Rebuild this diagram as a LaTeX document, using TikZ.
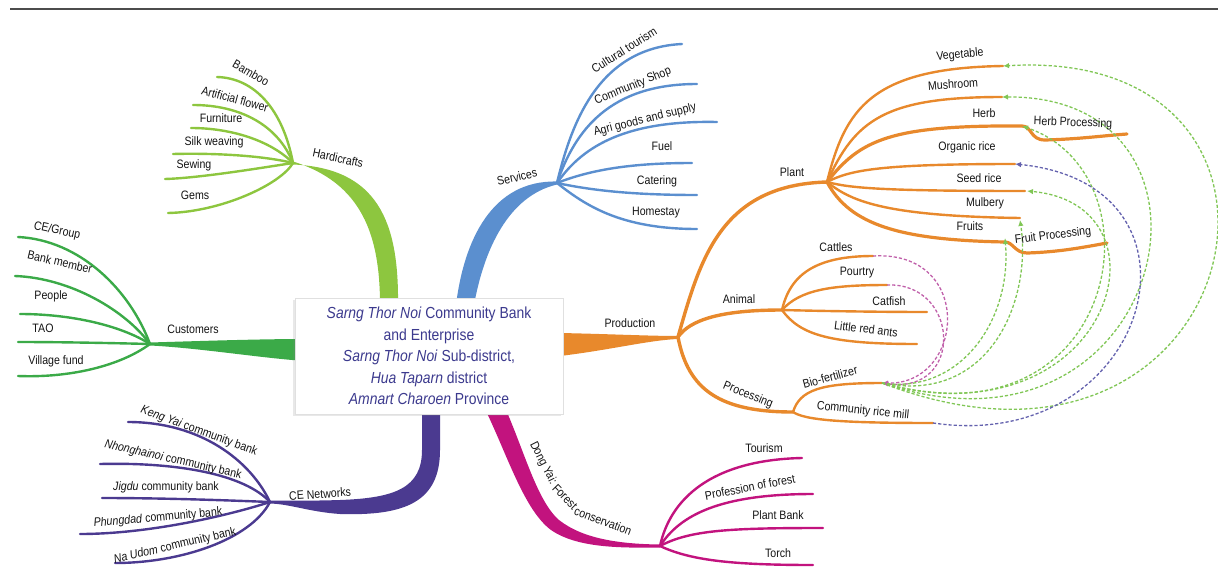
\documentclass[tikz,border=0pt]{standalone}
\usepackage{fontspec}
\setmainfont{Liberation Sans}[FakeStretch=0.87]
\usetikzlibrary{arrows.meta,shadows}
\definecolor{cHC}{HTML}{8DC63F}
\definecolor{cSV}{HTML}{5B8FCF}
\definecolor{cCU}{HTML}{3BAA48}
\definecolor{cCE}{HTML}{4B3A90}
\definecolor{cDY}{HTML}{C2137E}
\definecolor{cPR}{HTML}{E8892C}
\definecolor{cGD}{HTML}{80C655}
\definecolor{cPD}{HTML}{6462AE}
\definecolor{cKD}{HTML}{C060AA}
\definecolor{cTX}{HTML}{3C3A8E}
\begin{document}
\begin{tikzpicture}[x=1pt,y=-1pt,
  lbl/.style={font=\fontsize{12.2}{14}\selectfont, text=black!92, inner sep=0pt},
  lf/.style={line width=2.4pt, line cap=round},
  sub/.style={line width=3.4pt, line cap=round},
  dsh/.style={line width=1.3pt, dash pattern=on 3.2pt off 2pt},
  arr/.style={-{Latex[length=6pt,width=5.5pt]}},
]
\useasboundingbox (0,0) rectangle (1218,570);
\draw[line width=2pt, black!70] (10,8.5) coordinate (r1) -- (1218,8.5) coordinate (r2);

% hubs
\coordinate (HC) at (293,163);
\coordinate (SV) at (557,183);
\coordinate (CU) at (150,344);
\coordinate (CE) at (270,502);
\coordinate (DY) at (660,546);
\coordinate (PR) at (678,337);
\coordinate (PL) at (827,182);
\coordinate (AN) at (782,310);
\coordinate (PC) at (793,412);

% ---------------- main tapered branches
\fill[cHC] (380,305) .. controls (380,235) and (362,183) .. (293,161.5) -- (293,164.5) .. controls (378,168) and (399,222) .. (398,305) -- cycle;
\fill[cSV] (456,305) .. controls (464,240) and (492,180) .. (557,181.5) -- (557,184.5) .. controls (508,196) and (484,250) .. (474,305) -- cycle;
\fill[cCU] (150,342.5) .. controls (200,341) and (260,339) .. (305,339) -- (305,361) .. controls (260,358) and (200,348) .. (150,345.5) -- cycle;
\fill[cCE] (422,405) -- (422,450) .. controls (422,488) and (395,498) .. (340,500) .. controls (310,501) and (290,500.5) .. (270,500.5) -- (270,503.5) .. controls (290,504) and (310,512) .. (340,514) .. controls (405,516) and (440,502) .. (440,450) -- (440,405) -- cycle;
\fill[cDY] (502,401) .. controls (523,446) and (536,500) .. (559,520) .. controls (583,539) and (620,544) .. (660,544.5) -- (660,547.5) .. controls (620,548) and (577,548) .. (551,530) .. controls (524,510) and (507,454) .. (485,409) -- cycle;
\fill[cPR] (560,333) .. controls (610,334) and (650,336) .. (678,336) -- (678,339) .. controls (650,340) and (610,350) .. (560,356) -- cycle;

% ---------------- Hardicrafts leaves
\begin{scope}[cHC, lf]
\coordinate (bam) at (217,77);  \draw (HC) .. controls (283,110) and (255,78) .. (bam);
\coordinate (art) at (193,105); \draw (HC) .. controls (278,125) and (240,105) .. (art);
\coordinate (fur) at (191,128); \draw (HC) .. controls (270,140) and (230,128) .. (fur);
\coordinate (silk) at (173,154);\draw (HC) .. controls (260,155) and (210,153) .. (silk);
\coordinate (sew) at (165,179); \draw (HC) .. controls (260,168) and (200,178) .. (sew);
\coordinate (gem) at (168,213); \draw (HC) .. controls (280,185) and (220,212) .. (gem);
\end{scope}
% ---------------- Customers leaves
\begin{scope}[cCU, lf]
\coordinate (ceg) at (18,237);  \draw (CU) .. controls (130,290) and (80,240) .. (ceg);
\coordinate (bnk) at (15,276);  \draw (CU) .. controls (125,310) and (70,278) .. (bnk);
\coordinate (ppl) at (20,314);  \draw (CU) .. controls (120,325) and (70,314) .. (ppl);
\coordinate (tao) at (18,342);  \draw (CU) .. controls (110,343) and (60,342) .. (tao);
\coordinate (vf) at (18,376);   \draw (CU) .. controls (120,366) and (70,378) .. (vf);
\end{scope}
% ---------------- CE Networks leaves
\begin{scope}[cCE, lf]
\coordinate (ky) at (128,422);  \draw (CE) .. controls (250,460) and (200,422) .. (ky);
\coordinate (nh) at (100,464);  \draw (CE) .. controls (245,475) and (180,462) .. (nh);
\coordinate (jg) at (102,498);  \draw (CE) .. controls (220,500) and (160,498) .. (jg);
\coordinate (ph) at (80,534);   \draw (CE) .. controls (230,515) and (150,534) .. (ph);
\coordinate (nu) at (115,563);  \draw (CE) .. controls (250,540) and (180,563) .. (nu);
\end{scope}
% ---------------- Services leaves
\begin{scope}[cSV, lf]
\coordinate (ct) at (682,44);   \draw (SV) .. controls (572,120) and (600,48) .. (ct);
\coordinate (cs) at (697,84);   \draw (SV) .. controls (575,130) and (610,84) .. (cs);
\coordinate (ag) at (717,122);  \draw (SV) .. controls (580,150) and (620,120) .. (ag);
\coordinate (fu) at (692,163);  \draw (SV) .. controls (590,170) and (630,163) .. (fu);
\coordinate (ca) at (697,195);  \draw (SV) .. controls (590,190) and (630,195) .. (ca);
\coordinate (hs) at (697,229);  \draw (SV) .. controls (585,205) and (620,229) .. (hs);
\end{scope}
% ---------------- Dong Yai leaves
\begin{scope}[cDY, lf]
\coordinate (to) at (802,458);  \draw (DY) .. controls (670,500) and (710,460) .. (to);
\coordinate (pf) at (813,494);  \draw (DY) .. controls (680,515) and (720,494) .. (pf);
\coordinate (pb) at (823,528);  \draw (DY) .. controls (690,530) and (730,528) .. (pb);
\coordinate (tc) at (813,565);  \draw (DY) .. controls (690,560) and (730,565) .. (tc);
\end{scope}
% ---------------- Production sub branches
\begin{scope}[cPR]
\draw[sub] (PR) .. controls (700,260) and (720,185) .. (PL);
\draw[sub] (PR) .. controls (690,320) and (720,310) .. (AN);
\draw[sub] (PR) .. controls (688,390) and (720,412) .. (PC);
\begin{scope}[lf]
\coordinate (veg) at (1003,66);  \draw (PL) .. controls (845,110) and (870,68) .. (veg);
\coordinate (mush) at (1002,97); \draw (PL) .. controls (855,120) and (885,97) .. (mush);
\coordinate (org) at (1015,164); \draw (PL) .. controls (850,170) and (880,164) .. (org);
\coordinate (seed) at (1025,191);\draw (PL) .. controls (850,188) and (880,191) .. (seed);
\coordinate (mul) at (1020,218); \draw (PL) .. controls (850,200) and (880,216) .. (mul);
\coordinate (hbend) at (1022,126);
\coordinate (hp) at (1127,134);
\draw[line width=3.2pt] (PL) .. controls (860,140) and (890,125) .. (hbend) .. controls (1032,126) and (1030,140) .. (1045,140) .. controls (1080,139) and (1100,136) .. (hp);
\coordinate (fj) at (1005,242);
\coordinate (fp) at (1107,243);
\draw[line width=3.2pt] (PL) .. controls (850,225) and (900,240) .. (fj) .. controls (1013,242) and (1015,253) .. (1027,253) .. controls (1060,252) and (1085,247) .. (fp);
\coordinate (cat) at (873,256);  \draw (AN) .. controls (790,275) and (815,256) .. (cat);
\coordinate (pou) at (887,285);  \draw (AN) .. controls (800,290) and (830,285) .. (pou);
\coordinate (fish) at (927,312); \draw (AN) .. controls (820,311) and (880,312) .. (fish);
\coordinate (ants) at (917,344); \draw (AN) .. controls (800,335) and (830,344) .. (ants);
\coordinate (bio) at (882,383);  \draw (PC) .. controls (800,390) and (820,383) .. (bio);
\coordinate (mill) at (933,423); \draw (PC) .. controls (805,420) and (840,423) .. (mill);
\end{scope}
\end{scope}

% ---------------- dashed relations
\draw[dsh, cKD, arr] (cat) .. controls (975,250) and (965,385) .. (bio);
\draw[dsh, cKD, arr] (pou) .. controls (960,282) and (965,395) .. (bio);
\draw[dsh, cGD, arr] (bio) .. controls (960,395) and (1012,320) .. ([yshift=4pt]fj);
\draw[dsh, cGD, arr] (bio) .. controls (990,405) and (1032,300) .. ([yshift=-2pt]mul);
\draw[dsh, cGD, arr] (bio) .. controls (1110,445) and (1180,205) .. ([xshift=2pt]seed);
\draw[dsh, cGD, arr] (bio) .. controls (1120,450) and (1165,175) .. (hbend);
\draw[dsh, cGD, arr] (bio) .. controls (1170,480) and (1250,95) .. (mush);
\draw[dsh, cGD, arr] (bio) .. controls (1250,525) and (1350,45) .. (veg);
\draw[dsh, cPD, arr] (mill) .. controls (1150,455) and (1225,185) .. (org);

% ---------------- centre box
\node[draw=black!12, fill=white, minimum width=268pt, minimum height=116pt, inner sep=0pt,
      drop shadow={shadow xshift=-2pt, shadow yshift=-2pt, opacity=0.18},
      align=center, text=cTX, font=\fontsize{16}{21.5}\selectfont] (center) at (429,356)
 {\textit{Sarng Thor Noi} Community Bank\\ and Enterprise\\ \textit{Sarng Thor Noi} Sub-district,\\ \textit{Hua Taparn} district\\ \textit{Amnart Charoen} Province};

% ---------------- labels
\node[lbl, rotate=-12] (lHC) at (338,158) {Hardicrafts};
\node[lbl, rotate=-30] (lbam) at (251,73) {Bamboo};
\node[lbl, rotate=-15] (lart) at (235,99) {Artificial flower};
\node[lbl] (lfur) at (221,118) {Furniture};
\node[lbl] (lsilk) at (214,142) {Silk weaving};
\node[lbl] (lsew) at (194,165) {Sewing};
\node[lbl] (lgem) at (195,195) {Gems};

\node[lbl] (lCU) at (193,329) {Customers};
\node[lbl, rotate=-12] (lceg) at (57,231) {CE/Group};
\node[lbl, rotate=-13] (lbnk) at (60,262) {Bank member};
\node[lbl] (lppl) at (51,296) {People};
\node[lbl] (ltao) at (43,328) {TAO};
\node[lbl] (lvf) at (56,361) {Village fund};

\node[lbl, rotate=4] (lCE) at (320,494) {CE Networks};
\node[lbl, rotate=-20] (lky) at (199,431) {\textit{Keng Yai} community bank};
\node[lbl, rotate=-13] (lnh) at (173,460) {\textit{Nhonghainoi} community bank};
\node[lbl] (ljg) at (166,487) {\textit{Jigdu} community bank};
\node[lbl, rotate=5] (lph) at (158,518) {\textit{Phungdad} community bank};
\node[lbl, rotate=13] (lnu) at (175,546) {\textit{Na Udom} community bank};

\node[lbl, rotate=13] (lSV) at (517,177) {Services};
\node[lbl, rotate=32] (lct) at (624,50) {Cultural tourism};
\node[lbl, rotate=22] (lcs) at (633,86) {Community Shop};
\node[lbl, rotate=14] (lag) at (645,120) {Agri goods and supply};
\node[lbl] (lfu) at (662,146) {Fuel};
\node[lbl] (lca) at (657,181) {Catering};
\node[lbl] (lhs) at (656,213) {Homestay};

\node[lbl, rotate=-63] (lDY1) at (543,463) {Dong Yai:};
\node[lbl, rotate=-46] (lDY2) at (565,497) {Forest};
\node[lbl, rotate=-21] (lDY3) at (603,521) {conservation};
\node[lbl] (lto) at (764,448) {Tourism};
\node[lbl, rotate=11] (lpf) at (750,487) {Profession of forest};
\node[lbl] (lpb) at (778,515) {Plant Bank};
\node[lbl] (ltc) at (778,553) {Torch};

\node[lbl] (lPR) at (630,323) {Production};
\node[lbl] (lPL) at (792,172) {Plant};
\node[lbl] (lAN) at (739,299) {Animal};
\node[lbl, rotate=-22] (lPC) at (748,395) {Processing};
\node[lbl, rotate=5] (lveg) at (960,55) {Vegetable};
\node[lbl, rotate=4] (lmush) at (953,84) {Mushroom};
\node[lbl] (lherb) at (984,113) {Herb};
\node[lbl, rotate=-2] (lhp) at (1073,123) {Herb Processing};
\node[lbl] (lorg) at (967,147) {Organic rice};
\node[lbl] (lseed) at (979,178) {Seed rice};
\node[lbl] (lmul) at (985,203) {Mulbery};
\node[lbl] (lfr) at (970,226) {Fruits};
\node[lbl, rotate=7] (lfp) at (1053,236) {Fruit Processing};
\node[lbl] (lcat) at (836,247) {Cattles};
\node[lbl] (lpou) at (857,273) {Pourtry};
\node[lbl] (lfish) at (889,301) {Catfish};
\node[lbl, rotate=-7] (lants) at (866,329) {Little red ants};
\node[lbl, rotate=15] (lbio) at (830,377) {Bio-fertilizer};
\node[lbl, rotate=-6] (lmill) at (863,411) {Community rice mill};
\end{tikzpicture}
\end{document}
